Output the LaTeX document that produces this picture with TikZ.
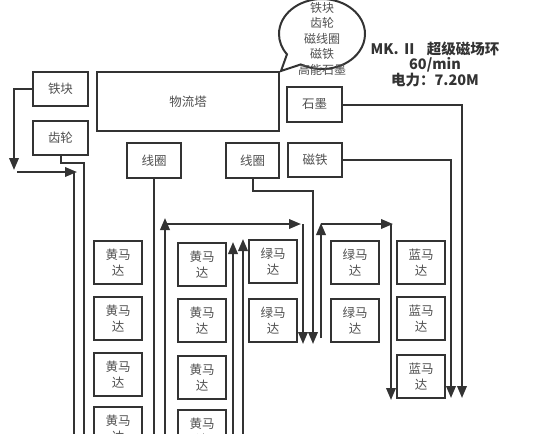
\documentclass[tikz,border=0pt]{standalone}
\usepackage{fontspec}
\newfontfamily\cjk{Noto Sans CJK SC}
\usetikzlibrary{arrows.meta,shapes.callouts,shapes.geometric}
\definecolor{ln}{HTML}{333333}
\definecolor{tx}{HTML}{505050}
\begin{document}
\begin{tikzpicture}[x=1pt,y=-1pt,
  box/.style={draw=ln, line width=2.4pt, fill=white, font=\cjk\fontsize{12.5}{16.5}\selectfont, text=tx, align=center, inner sep=0pt},
  motor/.style={box, minimum width=48pt, minimum height=43pt},
  conn/.style={draw=ln, line width=2pt},
  arr/.style={conn, -{Triangle[length=12pt,width=9.5pt]}},
]
\useasboundingbox (0,0) rectangle (547,434);
\fill[white] (0,0) rectangle (547,434);
\clip (0,0) rectangle (547,434);

% top boxes
\node[box, minimum width=55pt, minimum height=34pt] (tiekuai) at (60.5,89) {铁块};
\node[box, minimum width=55pt, minimum height=34pt] (chilun) at (60.5,138) {齿轮};
\node[box, minimum width=182pt, minimum height=59pt] (wuliu) at (188,101.5) {物流塔};
\node[box, minimum width=54pt, minimum height=35pt] (xq1) at (154,160.5) {线圈};
\node[box, minimum width=53pt, minimum height=35pt] (xq2) at (252.5,160.5) {线圈};
\node[box, minimum width=54pt, minimum height=34pt] (citie) at (315,160) {磁铁};
\node[box, minimum width=55pt, minimum height=35pt] (shimo) at (314.5,104.5) {石墨};

% motors
\node[motor] (y11) at (118,262.5) {黄马\\达};
\node[motor] (y12) at (118,318.5) {黄马\\达};
\node[motor] (y13) at (118,374.5) {黄马\\达};
\node[motor] (y14) at (118,428.5) {黄马\\达};
\node[motor] (y21) at (202,264.5) {黄马\\达};
\node[motor] (y22) at (202,320.5) {黄马\\达};
\node[motor] (y23) at (202,377.5) {黄马\\达};
\node[motor] (y24) at (202,431.5) {黄马\\达};
\node[motor] (g11) at (273,261.5) {绿马\\达};
\node[motor] (g12) at (273,320.5) {绿马\\达};
\node[motor] (g21) at (355,262.5) {绿马\\达};
\node[motor] (g22) at (355,320.5) {绿马\\达};
\node[motor] (b1) at (421,262.5) {蓝马\\达};
\node[motor] (b2) at (421,318.5) {蓝马\\达};
\node[motor] (b3) at (421,376.5) {蓝马\\达};

% free ends
\coordinate (c1) at (14,170);
\coordinate (c2s) at (17,172);
\coordinate (c2e) at (77,172);
\coordinate (c3s) at (74,172);
\coordinate (c3e) at (74,440);
\coordinate (c4e) at (84,440);
\coordinate (c6s) at (165,440);
\coordinate (c6e) at (165,218);
\coordinate (c7s) at (165,224);
\coordinate (c7e) at (301,224);
\coordinate (c8s) at (303,224);
\coordinate (c8e) at (303,344);
\coordinate (c9e) at (313,344);
\coordinate (c10s) at (233,440);
\coordinate (c10e) at (233,242);
\coordinate (c11s) at (243,440);
\coordinate (c11e) at (243,239);
\coordinate (c12s) at (321,338);
\coordinate (c12e) at (321,223);
\coordinate (c13s) at (321,224);
\coordinate (c13e) at (393,224);
\coordinate (c14s) at (391,224);
\coordinate (c14e) at (391,400);
\coordinate (c15e) at (451,398);
\coordinate (c16e) at (462,398);

% connectors
\draw[arr] (tiekuai.west) -| (c1);
\draw[arr] (c2s) -- (c2e);
\draw[conn] (c3s) -- (c3e);
\draw[conn] (chilun.south) -- ++(0,7) -| (c4e);
\draw[conn] (xq1.south) -- (xq1.south |- c4e);
\draw[arr] (c6s) -- (c6e);
\draw[arr] (c7s) -- (c7e);
\draw[arr] (c8s) -- (c8e);
\draw[arr] (xq2.south) -- ++(0,12) -| (c9e);
\draw[arr] (c10s) -- (c10e);
\draw[arr] (c11s) -- (c11e);
\draw[arr] (c12s) -- (c12e);
\draw[arr] (c13s) -- (c13e);
\draw[arr] (c14s) -- (c14e);
\draw[arr] (citie.east) -| (c15e);
\draw[arr] (shimo.east) -| (c16e);

% callout
\node[ellipse callout, draw=ln, line width=2pt, fill=white, minimum width=86pt, minimum height=70pt, inner sep=0pt,
      callout absolute pointer={(281,71)}, callout pointer arc=25] (bubble) at (322,34) {};
\node[font=\cjk\fontsize{12}{15.5}\selectfont, text=tx, align=center, inner sep=0pt] (bubbletxt) at (322,38.5)
  {铁块\\齿轮\\磁线圈\\磁铁\\高能石墨};

% title
\node[font=\cjk\bfseries\fontsize{14.5}{15.5}\selectfont, text=ln, align=center, inner sep=0pt] (title) at (435,64)
  {MK. Ⅱ\hspace{0.7em}超级磁场环\\60/min\\电力：7.20M};
\end{tikzpicture}
\end{document}
